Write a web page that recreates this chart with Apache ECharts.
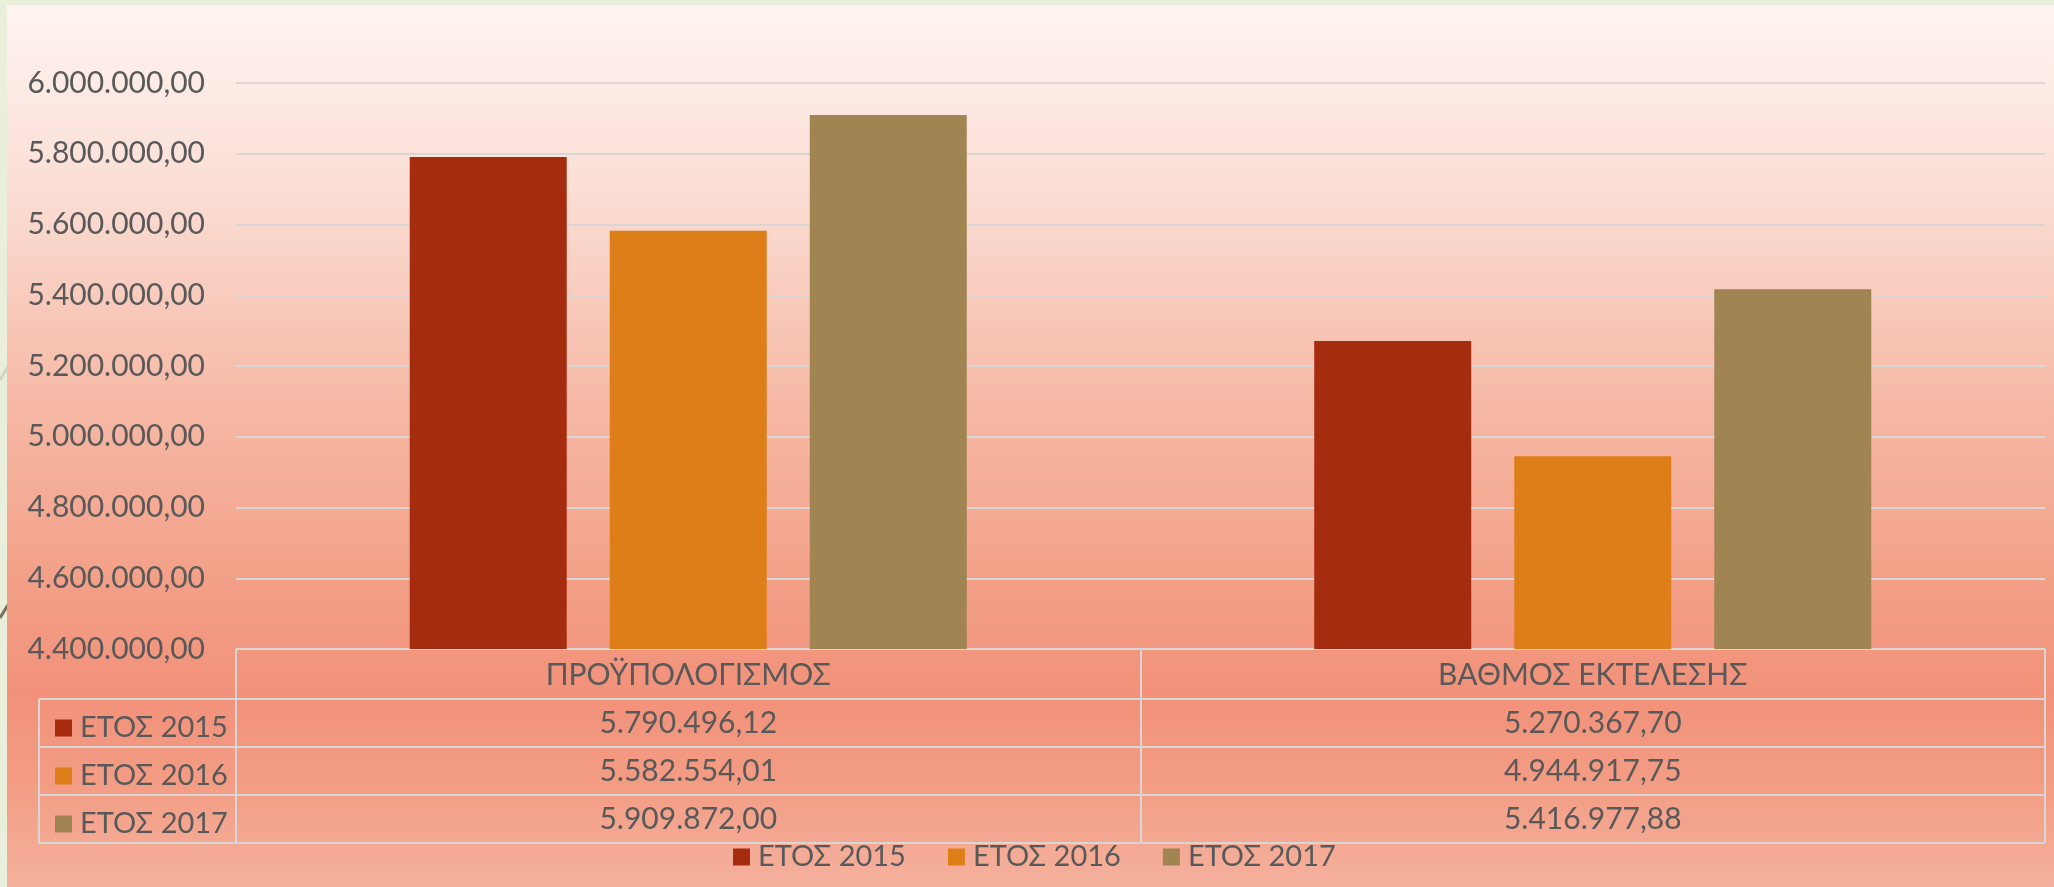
<!DOCTYPE html>
<html>
<head>
<meta charset="utf-8">
<style>
  html, body { margin: 0; padding: 0; background: #E9EFDA; }
  #chart { width: 2054px; height: 887px; }
</style>
<script src="https://cdn.jsdelivr.net/npm/echarts@6/dist/echarts.min.js"></script>
</head>
<body>
<div id="chart"></div>
<script>
// ---- data ----
const categories = ['ΠΡΟΫΠΟΛΟΓΙΣΜΟΣ', 'ΒΑΘΜΟΣ ΕΚΤΕΛΕΣΗΣ'];
const seriesNames = ['ΕΤΟΣ 2015', 'ΕΤΟΣ 2016', 'ΕΤΟΣ 2017'];
const values2015 = [5790496.12, 5270367.70];
const values2016 = [5582554.01, 4944917.75];
const values2017 = [5909872.00, 5416977.88];
const yMin = 4400000;
const yMax = 6000000;
const yStep = 200000;

// ---- styling ----
const colors = ['#A52C0F', '#DE7E18', '#A08452'];
const textColor = '#595959';
const lineColor = '#DAD6D3';
const font = 'Lato, "Noto Sans", sans-serif';
const fontSize = 30;
const legendFontSize = 29;

function fmt(v) {
  const parts = v.toFixed(2).split('.');
  const intPart = parts[0].replace(/\B(?=(\d{3})+(?!\d))/g, '.');
  return intPart + ',' + parts[1];
}

const seriesValues = [values2015, values2016, values2017];

const chart = echarts.init(document.getElementById('chart'), null, { renderer: 'canvas' });

const gridLeft = 236, gridRight = 9, gridTop = 83, gridBottom = 887 - 649;
const tableLeft = 39;
const headerH = 50, rowH = 48;

const option = {
  backgroundColor: '#E9EFDA',
  animation: false,
  textStyle: { fontFamily: font },
  grid: { left: gridLeft, right: gridRight, top: gridTop, bottom: gridBottom, containLabel: false },
  legend: [
    {
      data: seriesNames,
      orient: 'horizontal',
      left: 728,
      top: 837,
      itemWidth: 17,
      itemHeight: 17,
      itemGap: 42,
      icon: 'rect',
      selectedMode: false,
      textStyle: { color: textColor, fontSize: legendFontSize, fontFamily: font, lineHeight: 30, padding: [0, 0, 0, 3] }
    },
    {
      data: seriesNames,
      orient: 'vertical',
      left: 50,
      top: 649 + headerH,
      itemWidth: 17,
      itemHeight: 17,
      itemGap: 0,
      icon: 'rect',
      selectedMode: false,
      textStyle: { color: textColor, fontSize: legendFontSize, fontFamily: font, lineHeight: rowH, padding: [0, 0, 0, 3] }
    }
  ],
  xAxis: {
    type: 'category',
    data: categories,
    axisLine: { show: false },
    axisTick: { show: true, length: headerH + rowH * 3, lineStyle: { color: lineColor, width: 2 } },
    axisLabel: {
      interval: 0,
      margin: 2,
      color: textColor,
      fontSize: fontSize,
      fontFamily: font,
      lineHeight: rowH,
      formatter: function (value, idx) {
        const lines = [value];
        seriesValues.forEach(function (arr) { lines.push(fmt(arr[idx])); });
        return lines.join('\n');
      }
    }
  },
  yAxis: {
    type: 'value',
    min: yMin,
    max: yMax,
    interval: yStep,
    axisLine: { show: false },
    axisTick: { show: false },
    axisLabel: {
      margin: 31,
      color: textColor,
      fontSize: fontSize,
      fontFamily: font,
      formatter: function (v) { return fmt(v); }
    },
    splitLine: { show: true, lineStyle: { color: lineColor, width: 2 } }
  },
  series: seriesNames.map(function (name, i) {
    return {
      name: name,
      type: 'bar',
      data: seriesValues[i],
      barWidth: 157,
      barGap: '27.4%',
      itemStyle: { color: colors[i] },
      z: 2
    };
  })
};

chart.setOption(option);

// table lines and background (layout derived from grid)
function drawExtras() {
  const yTop = chart.convertToPixel({ yAxisIndex: 0 }, yMin);
  const right = 2054 - gridRight;
  const elements = [
    {
      type: 'line', z: -60, silent: true,
      shape: { x1: 0, y1: 380, x2: 20, y2: 347 },
      style: { stroke: '#D6D6C6', lineWidth: 3 }
    },
    {
      type: 'line', z: -60, silent: true,
      shape: { x1: 0, y1: 618, x2: 20, y2: 585 },
      style: { stroke: '#7D6E58', lineWidth: 3 }
    },
    {
      type: 'rect', z: -50, silent: true,
      shape: { x: 7, y: 5, width: 2054 - 7, height: 887 - 5 },
      style: {
        fill: new echarts.graphic.LinearGradient(0, 0, 0, 1, [
          { offset: 0, color: '#FEF4F1' },
          { offset: 0.2, color: '#FBDFD6' },
          { offset: 0.45, color: '#F6B9A6' },
          { offset: 0.66, color: '#F39F87' },
          { offset: 0.78, color: '#F2917A' },
          { offset: 0.88, color: '#F39C84' },
          { offset: 1, color: '#F5B19D' }
        ])
      }
    }
  ];
  for (let r = 1; r <= seriesNames.length; r++) {
    const y = yTop + headerH + rowH * (r - 1);
    elements.push({
      type: 'line', z: 5, silent: true,
      shape: { x1: tableLeft, y1: y, x2: right, y2: y },
      style: { stroke: lineColor, lineWidth: 2 }
    });
  }
  const yBottom = yTop + headerH + rowH * seriesNames.length;
  elements.push({
    type: 'line', z: 5, silent: true,
    shape: { x1: tableLeft, y1: yBottom, x2: right, y2: yBottom },
    style: { stroke: lineColor, lineWidth: 2 }
  });
  elements.push({
    type: 'line', z: 5, silent: true,
    shape: { x1: tableLeft, y1: yTop + headerH, x2: tableLeft, y2: yBottom },
    style: { stroke: lineColor, lineWidth: 2 }
  });
  chart.setOption({ graphic: { elements: elements } });
}
drawExtras();
</script>
</body>
</html>
